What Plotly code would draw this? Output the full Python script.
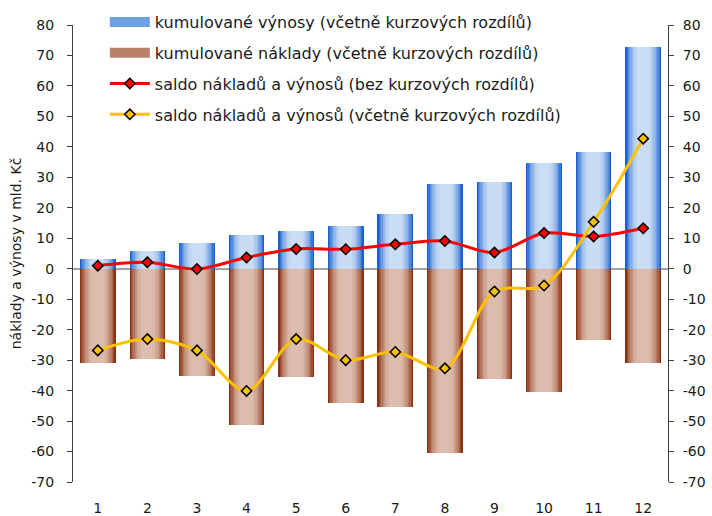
import plotly.graph_objects as go

months = [1, 2, 3, 4, 5, 6, 7, 8, 9, 10, 11, 12]
month_labels = ["1", "2", "3", "4", "5", "6", "7", "8", "9", "10", "11", "12"]
vynosy = [3.2, 5.8, 8.4, 11.0, 12.4, 14.0, 18.0, 27.8, 28.4, 34.7, 38.3, 72.9]
naklady = [-30.8, -29.5, -35.1, -51.2, -35.4, -44.0, -45.3, -60.5, -36.1, -40.4, -23.3, -30.8]
saldo_bez = [1.0, 2.1, -0.1, 3.7, 6.5, 6.4, 8.0, 9.1, 5.3, 11.7, 10.6, 13.3]
saldo_vc = [-26.8, -23.1, -26.8, -40.1, -23.1, -30.0, -27.3, -32.7, -7.5, -5.5, 15.4, 42.7]
y_ticks = [-70, -60, -50, -40, -30, -20, -10, 0, 10, 20, 30, 40, 50, 60, 70, 80]
y_tick_labels = [str(v) for v in y_ticks]

names = [
    "kumulované výnosy (včetně kurzových rozdílů)",
    "kumulované náklady (včetně kurzových rozdílů)",
    "saldo nákladů a výnosů (bez kurzových rozdílů)",
    "saldo nákladů a výnosů (včetně kurzových rozdílů)",
]

FONT = "DejaVu Sans"
TXT = "#1a1a1a"
AX = "#404040"

def lerp(c1, c2, t):
    return "rgb(%d,%d,%d)" % tuple(round(a + (b - a) * t) for a, b in zip(c1, c2))

BLUE_EDGE, BLUE_MID = (22, 96, 208), (200, 220, 244)
BROWN_EDGE, BROWN_MID = (140, 50, 18), (220, 188, 172)

fig = go.Figure()

N = 14
W = 0.72
for values, edge, mid, grp in [(vynosy, BLUE_EDGE, BLUE_MID, "v"), (naklady, BROWN_EDGE, BROWN_MID, "n")]:
    for k in range(N):
        s = k / (N - 1)
        t = 1 - (1 - min(1.0, s * 1.25)) ** 2
        fig.add_trace(go.Bar(
            x=months, y=values, width=W * (1 - k / N),
            marker=dict(color=lerp(edge, mid, t), line=dict(width=0)),
            showlegend=False, legendgroup=grp, hoverinfo="skip",
        ))

# legend swatches for bars
fig.add_trace(go.Scatter(x=[None], y=[None], mode="lines", name=names[0],
                         line=dict(color="rgb(110,160,226)", width=13), legendgroup="v"))
fig.add_trace(go.Scatter(x=[None], y=[None], mode="lines", name=names[1],
                         line=dict(color="rgb(186,128,104)", width=13), legendgroup="n"))

fig.add_trace(go.Scatter(
    x=months, y=saldo_bez, name=names[2], yaxis="y2", legendgroup="r",
    mode="lines+markers", line=dict(color="#ff0000", width=3, shape="spline", smoothing=0.9),
    marker=dict(symbol="diamond", size=8, color="#ff0000", line=dict(color="#000000", width=1.5)),
))
fig.add_trace(go.Scatter(
    x=months, y=saldo_vc, name=names[3], yaxis="y2", legendgroup="y",
    mode="lines+markers", line=dict(color="#ffc000", width=3, shape="spline", smoothing=0.9),
    marker=dict(symbol="diamond", size=8, color="#ffc000", line=dict(color="#000000", width=1.5)),
))

TOP, BOT = 5, 34
plot_h = 516 - TOP - BOT
dom_top = (482 - 25) / plot_h

yax = dict(
    range=[-70, 80], tickvals=y_ticks, ticktext=y_tick_labels, showgrid=False,
    showline=True, linecolor=AX, linewidth=1, automargin=False,
    ticks="outside", ticklen=5, tickcolor=AX, domain=[0, dom_top],
    tickfont=dict(family=FONT, size=14, color=TXT),
)

fig.update_layout(
    width=712, height=516,
    margin=dict(l=73, r=44, t=TOP, b=BOT, autoexpand=False),
    paper_bgcolor="white", plot_bgcolor="white",
    barmode="overlay", bargap=0,
    font=dict(family=FONT, size=14, color=TXT),
    xaxis=dict(range=[0.5, 12.5], tickvals=months, ticktext=month_labels, automargin=False,
               showgrid=False, showline=False, zeroline=False, ticks="",
               ticklabelstandoff=16, tickfont=dict(family=FONT, size=14, color=TXT)),
    yaxis=dict(**yax, zeroline=True, zerolinecolor="#a0a0a0", zerolinewidth=1.5,
               ticklabelstandoff=10,
               title=dict(text="náklady a výnosy v mld. Kč", font=dict(family=FONT, size=14, color=TXT),
                          standoff=6)),
    yaxis2=dict(**yax, overlaying="y", side="right", zeroline=False, ticklabelstandoff=6),
    legend=dict(x=0.0535, y=1.0, xanchor="left", yanchor="top",
                bgcolor="rgba(255,255,255,0)", traceorder="grouped", tracegroupgap=7,
                font=dict(family=FONT, size=16, color=TXT), itemwidth=40),
    showlegend=True,
)

fig.write_html("out.html", config={"displayModeBar": False},
               post_script="document.body.style.margin='0px';")
